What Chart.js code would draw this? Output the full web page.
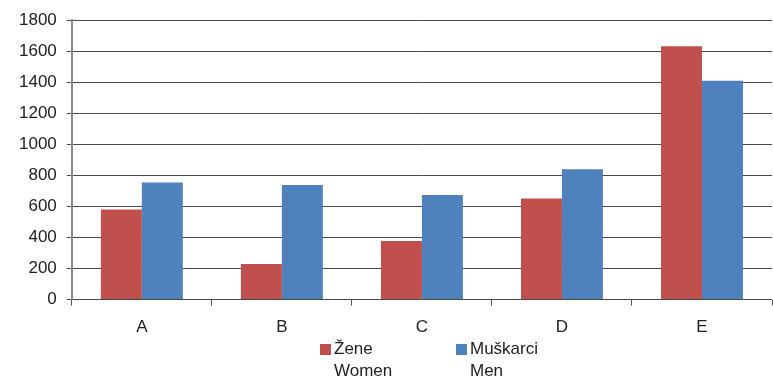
<!DOCTYPE html>
<html>
<head>
    <meta charset="UTF-8" />
    <title>Žene / Muškarci</title>
    <style>
        body { margin: 0; background: #fff; font-family: "Liberation Sans", Arial, sans-serif; }
        #wrap { position: relative; width: 773px; height: 381px; }
        #legend { position: absolute; top: 338px; left: 320px; display: flex; font-size: 17px; color: #222; line-height: 22px; }
        .item { display: flex; align-items: flex-start; width: 136px; }
        .box { width: 11px; height: 11px; margin-top: 6px; margin-right: 3px; }
    </style>
</head>
<body>
<div id="wrap">
    <canvas id="chartId" width="773" height="381"></canvas>
    <div id="legend"></div>
</div>
<script src="https://cdn.jsdelivr.net/npm/chart.js@4/dist/chart.umd.min.js"></script>
<script>
    const categories = ['A', 'B', 'C', 'D', 'E'];
    const women = [580, 230, 377, 652, 1632];
    const men = [755, 738, 674, 840, 1410];
    const seriesNames = [['Žene', 'Women'], ['Muškarci', 'Men']];
    const yTicks = [0, 200, 400, 600, 800, 1000, 1200, 1400, 1600, 1800];

    const colors = ['#C0504D', '#4F81BD'];

    var chrt = document.getElementById('chartId').getContext('2d');
    var chart = new Chart(chrt, {
        type: 'bar',
        data: {
            labels: categories,
            datasets: [
                { label: seriesNames[0].join(' '), data: women, backgroundColor: colors[0] },
                { label: seriesNames[1].join(' '), data: men, backgroundColor: colors[1] }
            ]
        },
        options: {
            responsive: false,
            animation: false,
            categoryPercentage: 0.585,
            barPercentage: 1,
            layout: { padding: { top: 10, right: 1, left: 9, bottom: 31 } },
            plugins: { legend: { display: false }, tooltip: { enabled: false } },
            scales: {
                x: {
                    grid: { drawOnChartArea: false, drawTicks: true, tickLength: 6, color: '#555', offset: true },
                    border: { display: false },
                    ticks: { color: '#222', padding: 12, font: { family: 'Liberation Sans', size: 17 } }
                },
                y: {
                    min: 0,
                    max: 1800,
                    afterBuildTicks: function (axis) { axis.ticks = yTicks.map(v => ({ value: v })); },
                    grid: { color: '#4a4a4a', lineWidth: 1, drawTicks: true, tickLength: 5 },
                    border: { color: '#8a8a8a', width: 2 },
                    ticks: {
                        color: '#222', padding: 10, font: { family: 'Liberation Sans', size: 17 },
                        callback: function (v) { return String(v); }
                    }
                }
            }
        }
    });

    // legend under the chart, two lines per item
    var legend = document.getElementById('legend');
    seriesNames.forEach(function (name, i) {
        var item = document.createElement('div');
        item.className = 'item';
        item.innerHTML = '<span class="box" style="background:' + colors[i] + '"></span><span>' + name[0] + '<br>' + name[1] + '</span>';
        legend.appendChild(item);
    });
</script>
</body>
</html>
